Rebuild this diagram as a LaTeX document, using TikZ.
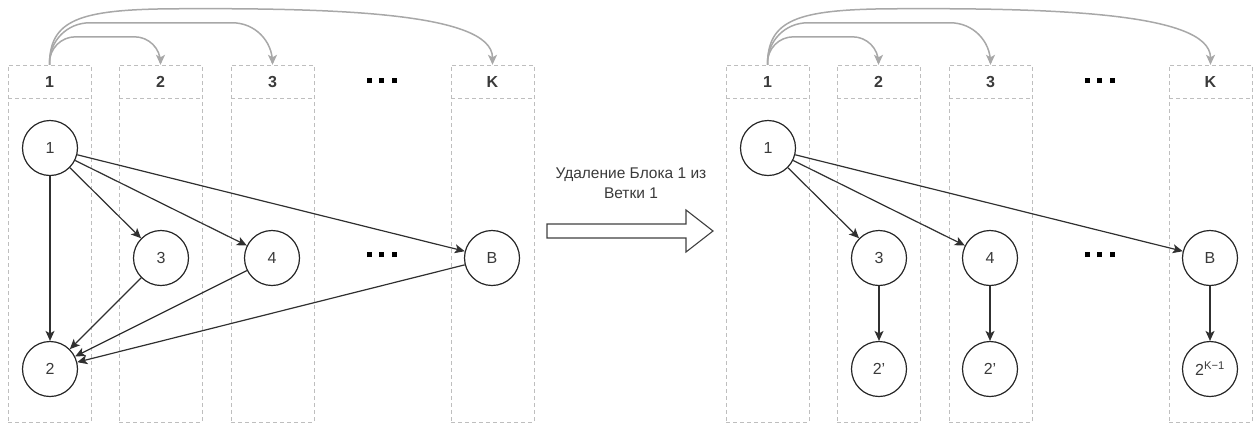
\documentclass[tikz,border=0pt]{standalone}
\usepackage{fontspec}
\setmainfont{Liberation Sans}
\usetikzlibrary{arrows.meta}
\definecolor{edgeC}{HTML}{303030}
\definecolor{laneC}{HTML}{BEBEBE}
\definecolor{flowC}{HTML}{A8A8A8}
\definecolor{inkC}{HTML}{3A3A3A}
\newcommand\squaredots{\rule{5pt}{5pt}\hspace{7.5pt}\rule{5pt}{5pt}\hspace{7.5pt}\rule{5pt}{5pt}}
\begin{document}
\begin{tikzpicture}[x=1pt,y=-1pt,
  lanebox/.style={draw=laneC, dash pattern=on 4pt off 3pt, line width=0.8pt,
    minimum width=83pt, minimum height=357pt, inner sep=0pt},
  lanesep/.style={draw=laneC, dash pattern=on 4pt off 3pt, line width=0.8pt},
  headlbl/.style={font=\bfseries\fontsize{16}{19}\selectfont, text=inkC,
    minimum width=83pt, minimum height=33pt, inner sep=0pt},
  vert/.style={circle, draw=black!85, line width=1.2pt, minimum size=55pt,
    inner sep=0pt, font=\fontsize{16}{19}\selectfont, text=inkC},
  link/.style={draw=edgeC, line width=1.2pt,
    -{Stealth[length=10pt,width=9pt,inset=2.5pt]}},
  hop/.style={draw=flowC, line width=1.5pt,
    -{Stealth[length=10pt,width=9pt,inset=2.5pt]}, fill=none},
  dotrow/.style={inner sep=0pt, text=black},
]
\useasboundingbox (0,0) rectangle (1253,424);

% ---- lanes of both panels ----
\foreach \ox/\p in {0/A,718/C}{
  \foreach \lx/\lab/\nm in {8/1/1,119/2/2,231/3/3,451/K/K}{
    \node[lanebox] (lane\p\nm) at (\lx+\ox+41.5,243.5) {};
    \draw[lanesep] (\lx+\ox,98) -- (\lx+\ox+83,98);
    \node[headlbl] (h\p\nm) at (\lx+\ox+41.5,81.5) {\lab};
  }
  \node[dotrow] (hdots\p) at (381.5+\ox,80.5) {\squaredots};
  \node[dotrow] (mdots\p) at (381.5+\ox,254.5) {\squaredots};
}

% ---- branch jumps above the lanes ----
\foreach \p in {A,C}{
  \draw[hop, rounded corners=26pt] (h\p 1.north) -- ++(0,-28) -| (h\p 2.north);
  \draw[hop, rounded corners=40pt] (h\p 1.north) -- ++(0,-42) -| (h\p 3.north);
  \path (h\p 1.north) ++(120,-56) coordinate (crest\p);
  \draw[hop] (h\p 1.north) .. controls +(0,-45) and +(-90,1) .. (crest\p)
             .. controls +(160,-1) and +(0,-53) .. (h\p K.north);
}

% ---- left graph ----
\node[vert] (a1) at (50,148) {1};
\node[vert] (a2) at (50,369) {2};
\node[vert] (a3) at (161,258) {3};
\node[vert] (a4) at (272,258) {4};
\node[vert] (aB) at (492,258) {B};
\draw[link] (a1) -- (a2);
\draw[link] (a1) -- (a3);
\draw[link] (a1) -- (a4);
\draw[link] (a1) -- (aB);
\draw[link] (a3) -- (a2);
\draw[link] (a4) -- (a2);
\draw[link] (aB) -- (a2);

% ---- transformation arrow ----
\node[align=center, font=\fontsize{15.5}{20}\selectfont, text=inkC] (cap)
  at (631,183) {Удаление Блока 1 из\\Ветки 1};
\draw[draw=black!75, fill=white, line width=1.1pt]
  (547,224) -- (686,224) -- (686,210) -- (713,231) -- (686,252)
  -- (686,238) -- (547,238) -- cycle;

% ---- right graph ----
\node[vert] (c1) at (768,148) {1};
\node[vert] (c3) at (879,258) {3};
\node[vert] (c4) at (990,258) {4};
\node[vert] (cB) at (1210,258) {B};
\node[vert] (c3b) at (879,369) {2'};
\node[vert] (c4b) at (990,369) {2'};
\node[vert] (cBb) at (1210,369) {2\textsuperscript{K−1}};
\draw[link] (c1) -- (c3);
\draw[link] (c1) -- (c4);
\draw[link] (c1) -- (cB);
\draw[link] (c3) -- (c3b);
\draw[link] (c4) -- (c4b);
\draw[link] (cB) -- (cBb);
\end{tikzpicture}
\end{document}
